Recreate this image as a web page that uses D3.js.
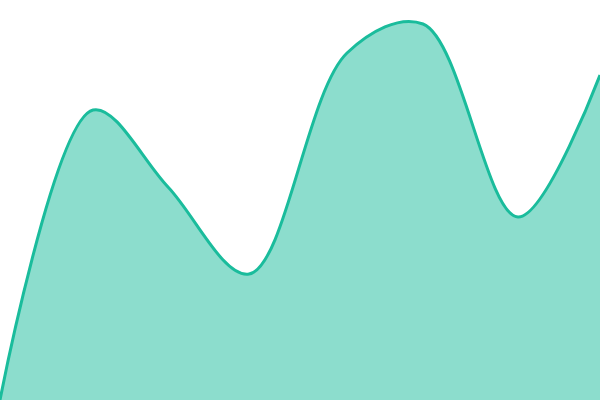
<!DOCTYPE html>
<html>
<head>
<meta charset="utf-8">
<script src="https://cdn.jsdelivr.net/npm/d3@7"></script>
<style>
  html, body { margin: 0; padding: 0; background: #fff; }
  svg { display: block; }
</style>
</head>
<body>
<div id="chart"></div>
<script>
const width = 600
const height = 400

// data
const xs = [0, 93, 168, 249, 347, 423, 518, 600]
const values = [0, 72.5, 53.25, 31.5, 86.75, 94, 45.75, 81.25]

const data = xs.map((x, i) => ({ x, v: values[i] }))

const x = d3.scaleLinear().domain([0, 600]).range([0, width])
const y = d3.scaleLinear().domain([0, 100]).range([height, 0])

const svg = d3.select('#chart').append('svg')
  .attr('width', width)
  .attr('height', height)

const area = d3.area()
  .x(d => x(d.x))
  .y0(height)
  .y1(d => y(d.v))
  .curve(d3.curveCatmullRom)

const line = d3.line()
  .x(d => x(d.x))
  .y(d => y(d.v))
  .curve(d3.curveCatmullRom)

svg.append('path')
  .datum(data)
  .attr('d', area)
  .attr('fill', '#1abc9c')
  .attr('fill-opacity', 0.5)

svg.append('path')
  .datum(data)
  .attr('d', line)
  .attr('fill', 'none')
  .attr('stroke', '#1abc9c')
  .attr('stroke-width', 3)
</script>
</body>
</html>
